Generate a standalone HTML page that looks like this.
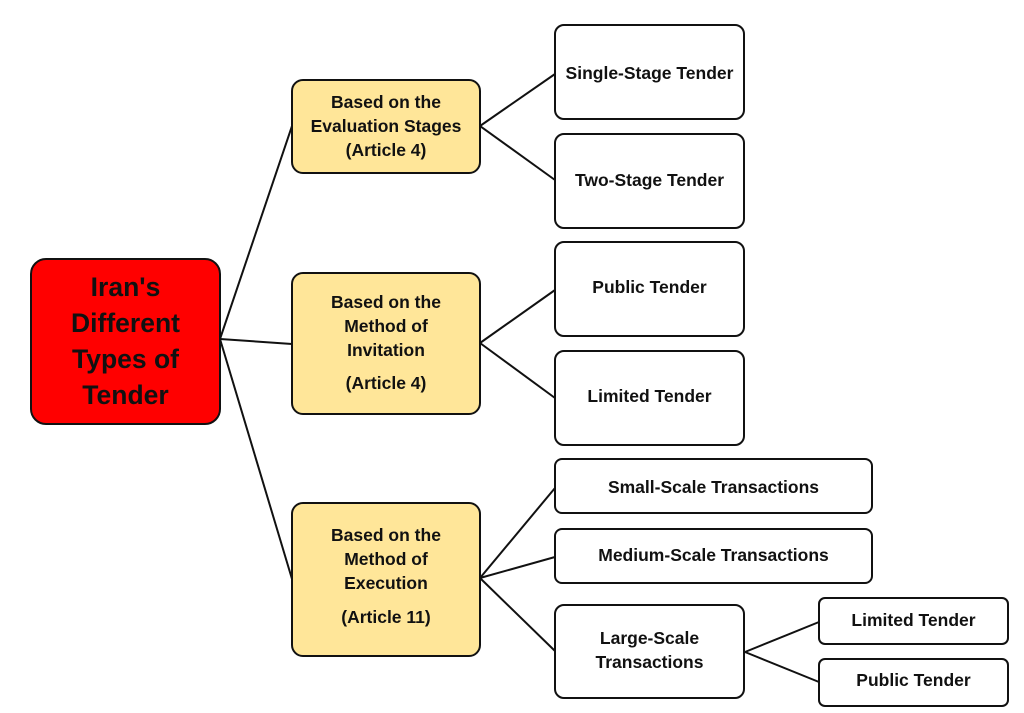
<!DOCTYPE html>
<html>
<head>
<meta charset="utf-8">
<style>
  html,body{margin:0;padding:0;background:#fff;}
  body{width:1024px;height:713px;overflow:hidden;}
  svg{display:block;}
  text{font-family:"Liberation Sans",sans-serif;font-weight:bold;fill:#111;text-anchor:middle;}
  .s{font-size:17.5px;}
  .r{font-size:26.5px;}
</style>
</head>
<body>
<svg width="1024" height="713" viewBox="0 0 1024 713" xmlns="http://www.w3.org/2000/svg">
  <g stroke="#111" stroke-width="2" fill="none">
    <!-- root connectors -->
    <line x1="220" y1="339" x2="292" y2="126"/>
    <line x1="220" y1="339" x2="292" y2="344"/>
    <line x1="220" y1="339" x2="292" y2="579"/>
    <!-- level 2 -->
    <line x1="480" y1="126" x2="555" y2="74"/>
    <line x1="480" y1="126" x2="555" y2="180"/>
    <line x1="480" y1="343" x2="555" y2="290"/>
    <line x1="480" y1="343" x2="555" y2="398"/>
    <line x1="480" y1="578" x2="555" y2="488"/>
    <line x1="480" y1="578" x2="555" y2="557"/>
    <line x1="480" y1="578" x2="555" y2="651"/>
    <!-- level 3 -->
    <line x1="745" y1="652" x2="819" y2="622"/>
    <line x1="745" y1="652" x2="819" y2="682"/>
  </g>

  <!-- root -->
  <rect x="31" y="259" width="189" height="165" rx="15" ry="15" fill="#ff0000" stroke="#111" stroke-width="2"/>
  <text class="r" x="125.5" y="296">Iran's</text>
  <text class="r" x="125.5" y="332">Different</text>
  <text class="r" x="125.5" y="368">Types of</text>
  <text class="r" x="125.5" y="404">Tender</text>

  <!-- yellow boxes -->
  <g fill="#ffe699" stroke="#111" stroke-width="2">
    <rect x="292" y="80" width="188" height="93" rx="11" ry="11"/>
    <rect x="292" y="273" width="188" height="141" rx="11" ry="11"/>
    <rect x="292" y="503" width="188" height="153" rx="11" ry="11"/>
  </g>
  <text class="s" x="386" y="108">Based on the</text>
  <text class="s" x="386" y="132">Evaluation Stages</text>
  <text class="s" x="386" y="156">(Article 4)</text>

  <text class="s" x="386" y="308">Based on the</text>
  <text class="s" x="386" y="332">Method of</text>
  <text class="s" x="386" y="356">Invitation</text>
  <text class="s" x="386" y="389">(Article 4)</text>

  <text class="s" x="386" y="541">Based on the</text>
  <text class="s" x="386" y="565">Method of</text>
  <text class="s" x="386" y="589">Execution</text>
  <text class="s" x="386" y="623">(Article 11)</text>

  <!-- white boxes -->
  <g fill="#fff" stroke="#111" stroke-width="2">
    <rect x="555" y="25" width="189" height="94" rx="9" ry="9"/>
    <rect x="555" y="134" width="189" height="94" rx="9" ry="9"/>
    <rect x="555" y="242" width="189" height="94" rx="9" ry="9"/>
    <rect x="555" y="351" width="189" height="94" rx="9" ry="9"/>
    <rect x="555" y="459" width="317" height="54" rx="7" ry="7"/>
    <rect x="555" y="529" width="317" height="54" rx="7" ry="7"/>
    <rect x="555" y="605" width="189" height="93" rx="9" ry="9"/>
    <rect x="819" y="598" width="189" height="46" rx="6" ry="6"/>
    <rect x="819" y="659" width="189" height="47" rx="6" ry="6"/>
  </g>
  <text class="s" x="649.5" y="79">Single-Stage Tender</text>
  <text class="s" x="649.5" y="186">Two-Stage Tender</text>
  <text class="s" x="649.5" y="293">Public Tender</text>
  <text class="s" x="649.5" y="402">Limited Tender</text>
  <text class="s" x="713.5" y="493">Small-Scale Transactions</text>
  <text class="s" x="713.5" y="561">Medium-Scale Transactions</text>
  <text class="s" x="649.5" y="644">Large-Scale</text>
  <text class="s" x="649.5" y="668">Transactions</text>
  <text class="s" x="913.5" y="626">Limited Tender</text>
  <text class="s" x="913.5" y="686">Public Tender</text>
</svg>
</body>
</html>
